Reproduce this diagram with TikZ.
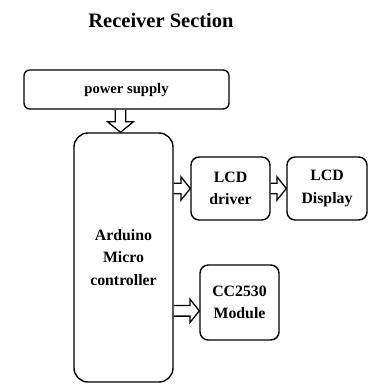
\documentclass[tikz,border=0pt]{standalone}
\usepackage{fontspec}
\setmainfont{Liberation Serif}
\usetikzlibrary{calc}
\tikzset{
  blk/.style={draw, line width=1.2pt, rounded corners=7pt, align=center,
    font=\fontsize{13.5}{19}\selectfont\bfseries},
  % hollow block arrows: shaft 4.5pt, head 10pt wide and 8pt long
  hbus/.style={line width=1.1pt, to path={let \p1=(\tikztostart), \p2=(\tikztotarget) in
    (\x1,\y1+4.5pt) -- (\x2-8pt,\y1+4.5pt) -- (\x2-8pt,\y1+10pt) -- (\x2,\y1)
    -- (\x2-8pt,\y1-10pt) -- (\x2-8pt,\y1-4.5pt) -- (\x1,\y1-4.5pt)}},
  vbus/.style={line width=1.1pt, to path={let \p1=(\tikztostart), \p2=(\tikztotarget) in
    (\x1-4.5pt,\y1) -- (\x1-4.5pt,\y2+9pt) -- (\x1-11pt,\y2+9pt) -- (\x1,\y2)
    -- (\x1+11pt,\y2+9pt) -- (\x1+4.5pt,\y2+9pt) -- (\x1+4.5pt,\y1)}}
}
\begin{document}
\begin{tikzpicture}[x=0.03cm,y=-0.03cm]
      \useasboundingbox (0,0) rectangle (371,385);
      \node (title) at (161,20) {\fontsize{17.5}{20}\selectfont\bfseries Receiver Section};
      \node[blk, rounded corners=5pt, minimum width=6.15cm, minimum height=1.17cm,
        font=\fontsize{12.5}{15}\selectfont\bfseries] (psu) at (126.5,89.5) {power supply};
      \node[blk, rounded corners=12pt, minimum width=2.97cm, minimum height=7.47cm]
        (ardu) at (123.5,257.5) {Arduino\\Micro\\controller};
      \node[blk, minimum width=2.37cm, minimum height=1.89cm]
        (drv) at (230.5,188.5) {LCD\\driver};
      \node[blk, minimum width=2.4cm, minimum height=1.89cm]
        (disp) at (327,188.5) {LCD\\Display};
      \node[blk, minimum width=2.37cm, minimum height=2.25cm]
        (cc) at (239.5,302.5) {CC2530\\Module};
      \draw[vbus] ([xshift=-0.09cm]ardu.north |- psu.south) to ([xshift=-0.09cm]ardu.north);
      \draw[hbus] (ardu.east |- drv.west) to (drv.west);
      \draw[hbus] (drv.east) to (disp.west);
      \draw[hbus] ([yshift=-0.25cm]ardu.east |- cc.west) to ([yshift=-0.25cm]cc.west);
    \end{tikzpicture}
\end{document}
